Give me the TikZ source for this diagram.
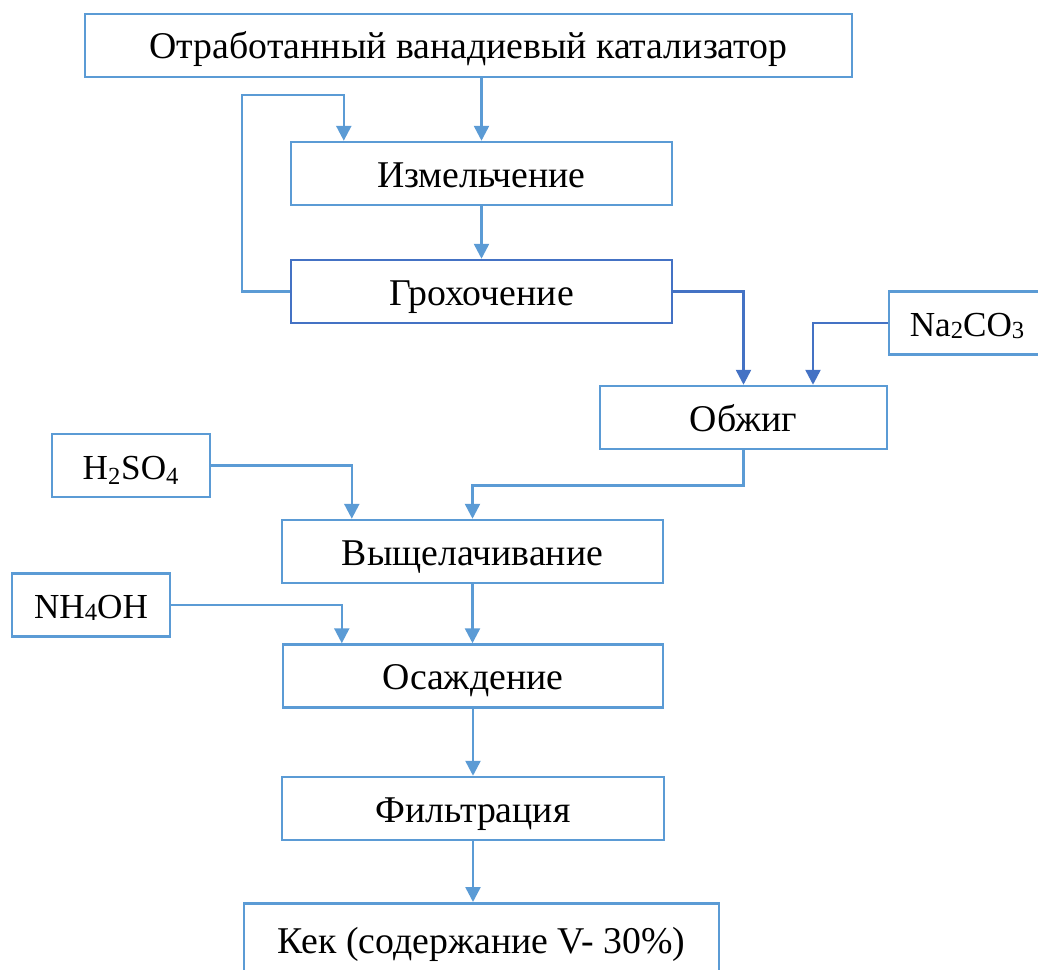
\documentclass[tikz,border=0pt]{standalone}
\usepackage{fontspec}
\setmainfont{Liberation Serif}
\usetikzlibrary{arrows.meta,positioning}
\definecolor{lblue}{RGB}{91,155,213}
\definecolor{dblue}{RGB}{68,114,196}
\newcommand\lowsub[1]{\raisebox{-0.15ex}{\fontsize{14}{14}\selectfont #1}}
\tikzset{
    % boxes of the process steps
    stepbox/.style={
        draw=lblue,
        line width=0.05cm,
        fill=white,
        inner sep=0pt,
        minimum height=1.26cm,
        text height=0.9cm,
        text depth=0.36cm,
        font=\fontsize{21.5}{26}\selectfont
    },
    % boxes of the reagents
    reagbox/.style={
        stepbox,
        font=\fontsize{20}{24}\selectfont
    },
    flow/.style={
        line width=0.05cm,
        lblue,
        -{Triangle[length=0.3cm, width=0.3cm]}
    },
    flowdark/.style={
        flow,
        dblue
    }
}

\begin{document}
\begin{tikzpicture}[x=0.02cm,y=-0.02cm]
    \useasboundingbox (0,0) rectangle (1038,970);
    \clip (0,0) rectangle (1038,970);

    \node[stepbox, minimum width=15.34cm] (otrab) at (468.5,45.5) {Отработанный ванадиевый катализатор};
    \node[stepbox, minimum width=7.62cm] (izm) at (481.5,173.5) {Измельчение};
    \node[stepbox, draw=dblue, minimum width=7.62cm] (groh) at (481.5,291.5) {Грохочение};
    \node[reagbox, minimum width=3.12cm] (soda) at (967,323) {Na\lowsub{2}CO\lowsub{3}};
    \node[stepbox, minimum width=5.74cm] (obzhig) at (743.5,417.5) {Обжиг};
    \node[reagbox, minimum width=3.16cm] (acid) at (131,465.5) {H\textsubscript{2}SO\textsubscript{4}};
    \node[stepbox, minimum width=7.62cm] (vysh) at (472.5,551.5) {Выщелачивание};
    \node[reagbox, minimum width=3.16cm] (ammon) at (91,605) {NH\lowsub{4}OH};
    \node[stepbox, minimum width=7.6cm] (osazh) at (473,676) {Осаждение};
    \node[stepbox, minimum width=7.64cm] (filtr) at (473,808.5) {Фильтрация};
    \node[stepbox, anchor=north, minimum width=9.5cm, text height=1cm, text depth=0.5cm] (kek) at (481.5,902) {Кек (содержание V- 30\%)};

    % free ends of the side inputs
    \path (izm.north west) ++(54,0) coordinate (loopin);
    \path (loopin) ++(0,-46) coordinate (looptop);
    \path (obzhig.north) ++(69.5,0) coordinate (sodain);
    \path (vysh.north west) ++(71,0) coordinate (acidin);
    \path (osazh.north west) ++(60,0) coordinate (ammonin);

    \draw[flow] (otrab.south -| izm.north) -- (izm.north);
    \draw[flow] (izm.south) -- (groh.north);
    \draw[flow] (groh.west) -- ++(-48,0) |- (looptop) -- (loopin);
    \draw[flowdark] (groh.east) -| (obzhig.north);
    \draw[flowdark] (soda.west) -| (sodain);
    \draw[flow] (obzhig.south) -- ++(0,35.5) -| (vysh.north);
    \draw[flow] (acid.east) -| (acidin);
    \draw[flow] (vysh.south) -- (vysh.south |- osazh.north);
    \draw[flow] (ammon.east) -| (ammonin);
    \draw[flow] (osazh.south) -- (filtr.north);
    \draw[flow] (filtr.south) -- (filtr.south |- kek.north);
\end{tikzpicture}
\end{document}
